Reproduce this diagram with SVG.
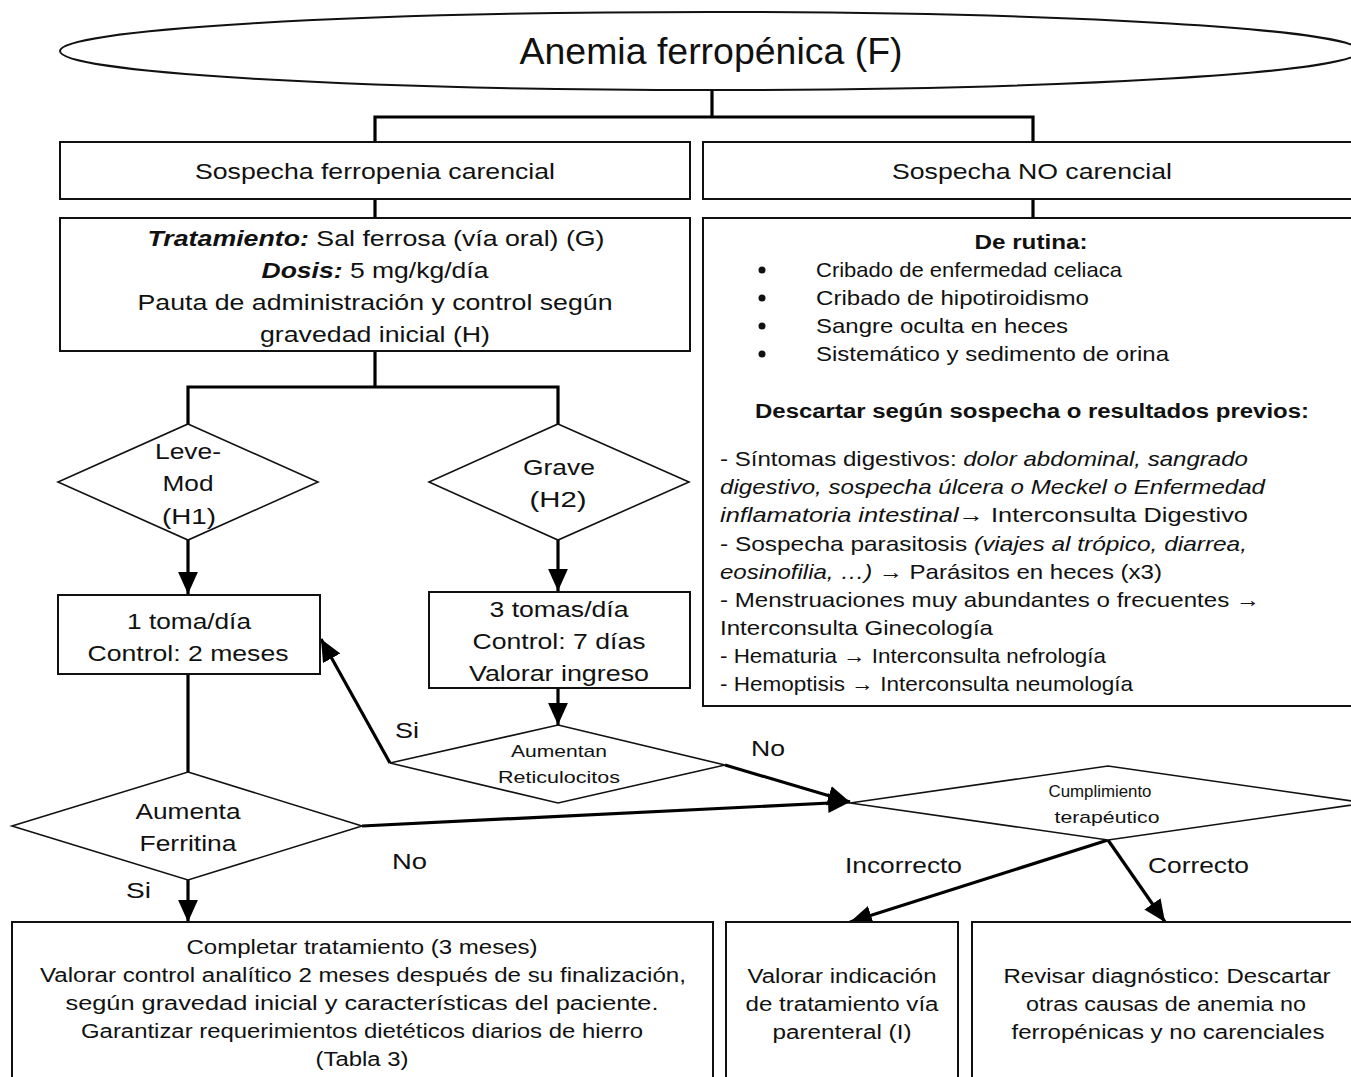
<svg xmlns="http://www.w3.org/2000/svg" width="1351" height="1077" viewBox="0 0 1351 1077">
<defs>
<style>
text{font-family:"Liberation Sans",Arial,sans-serif;fill:#111;}
.box{fill:#fff;stroke:#111;stroke-width:2;}
.dia{fill:#fff;stroke:#111;stroke-width:1.6;}
.c{text-anchor:middle;}
.f22{font-size:22px;}
.f20{font-size:20px;}
.f17{font-size:17px;}
.con{fill:none;stroke:#000;stroke-width:3.2;}
</style>
<marker id="ahb" viewBox="0 0 10 10" refX="10" refY="5" markerWidth="22" markerHeight="22" orient="auto" markerUnits="userSpaceOnUse">
<path d="M0,0.5 L10,5 L0,9.5 Z" fill="#000"/>
</marker>
</defs>
<rect width="1351" height="1077" fill="#fff"/>

<g id="connectors">
<path class="con" d="M712,90 V117 M375,117 H1033 M375,115.5 V142 M1033,115.5 V142"/>
<path class="con" d="M375,199 V218 M1033,199 V218"/>
<path class="con" d="M375,351 V387 M188,387 H558 M188,385.5 V424 M558,385.5 V424"/>
<path class="con" d="M188,540 V594" marker-end="url(#ahb)"/>
<path class="con" d="M558,540 V591" marker-end="url(#ahb)"/>
<path class="con" d="M558,688 V725" marker-end="url(#ahb)"/>
<path class="con" d="M390,763 L321,639" marker-end="url(#ahb)"/>
<path class="con" d="M725,765 L850,802" marker-end="url(#ahb)"/>
<path class="con" d="M362,826 L850,802" marker-end="url(#ahb)"/>
<path class="con" d="M188,674 V772"/>
<path class="con" d="M188,880 V922" marker-end="url(#ahb)"/>
<path class="con" d="M1108,840 L850,922" marker-end="url(#ahb)"/>
<path class="con" d="M1108,840 L1165,922" marker-end="url(#ahb)"/>
<text class="f22" x="395" y="738" textLength="24" lengthAdjust="spacingAndGlyphs">Si</text>
<text class="f22" x="751" y="756" textLength="34" lengthAdjust="spacingAndGlyphs">No</text>
<text class="f22" x="392" y="869" textLength="35" lengthAdjust="spacingAndGlyphs">No</text>
<text class="f22" x="126" y="898" textLength="25" lengthAdjust="spacingAndGlyphs">Si</text>
<text class="f22" x="845" y="873" textLength="117" lengthAdjust="spacingAndGlyphs">Incorrecto</text>
<text class="f22" x="1148" y="873" textLength="101" lengthAdjust="spacingAndGlyphs">Correcto</text>
</g>

<g id="title">
<ellipse cx="710" cy="51" rx="650" ry="39" class="box"/>
<text class="c" x="711" y="64" font-size="36" textLength="383" lengthAdjust="spacingAndGlyphs">Anemia ferropénica (F)</text>
</g>

<g id="sospecha-carencial">
<rect x="60" y="142" width="630" height="57" class="box"/>
<text class="c f22" x="375" y="179" textLength="360" lengthAdjust="spacingAndGlyphs">Sospecha ferropenia carencial</text>
</g>

<g id="sospecha-no-carencial">
<rect x="703" y="142" width="660" height="57" class="box"/>
<text class="c f22" x="1032" y="179" textLength="280" lengthAdjust="spacingAndGlyphs">Sospecha NO carencial</text>
</g>

<g id="tratamiento">
<rect x="60" y="218" width="630" height="133" class="box"/>
<text class="c f22" x="376" y="246" textLength="457" lengthAdjust="spacingAndGlyphs"><tspan font-weight="bold" font-style="italic">Tratamiento:</tspan> Sal ferrosa (vía oral) (G)</text>
<text class="c f22" x="375" y="278" textLength="227" lengthAdjust="spacingAndGlyphs"><tspan font-weight="bold" font-style="italic">Dosis:</tspan> 5 mg/kg/día</text>
<text class="c f22" x="375" y="310" textLength="475" lengthAdjust="spacingAndGlyphs">Pauta de administración y control según</text>
<text class="c f22" x="375" y="342" textLength="230" lengthAdjust="spacingAndGlyphs">gravedad inicial (H)</text>
</g>

<g id="rutina">
<rect x="703" y="218" width="660" height="488" class="box"/>
<text class="c" x="1031" y="249" font-size="20" font-weight="bold" textLength="113" lengthAdjust="spacingAndGlyphs">De rutina:</text>
<g font-size="21">
<circle cx="762" cy="270" r="3.5" fill="#111"/>
<circle cx="762" cy="298" r="3.5" fill="#111"/>
<circle cx="762" cy="326" r="3.5" fill="#111"/>
<circle cx="762" cy="354" r="3.5" fill="#111"/>
<text x="816" y="277" textLength="306" lengthAdjust="spacingAndGlyphs">Cribado de enfermedad celiaca</text>
<text x="816" y="305" textLength="273" lengthAdjust="spacingAndGlyphs">Cribado de hipotiroidismo</text>
<text x="816" y="333" textLength="252" lengthAdjust="spacingAndGlyphs">Sangre oculta en heces</text>
<text x="816" y="361" textLength="353" lengthAdjust="spacingAndGlyphs">Sistemático y sedimento de orina</text>
</g>
<text class="c" x="1032" y="418" font-size="20" font-weight="bold" textLength="554" lengthAdjust="spacingAndGlyphs">Descartar según sospecha o resultados previos:</text>
<g font-size="21">
<text x="720" y="466" textLength="528" lengthAdjust="spacingAndGlyphs">- Síntomas digestivos: <tspan font-style="italic">dolor abdominal, sangrado</tspan></text>
<text x="720" y="494" font-style="italic" textLength="545" lengthAdjust="spacingAndGlyphs">digestivo, sospecha úlcera o Meckel o Enfermedad</text>
<text x="720" y="522" textLength="528" lengthAdjust="spacingAndGlyphs"><tspan font-style="italic">inflamatoria intestinal</tspan>→ Interconsulta Digestivo</text>
<text x="720" y="551" textLength="527" lengthAdjust="spacingAndGlyphs">- Sospecha parasitosis <tspan font-style="italic">(viajes al trópico, diarrea,</tspan></text>
<text x="720" y="579" textLength="442" lengthAdjust="spacingAndGlyphs"><tspan font-style="italic">eosinofilia, …)</tspan> → Parásitos en heces (x3)</text>
<text x="720" y="607" textLength="540" lengthAdjust="spacingAndGlyphs">- Menstruaciones muy abundantes o frecuentes →</text>
<text x="720" y="635" textLength="273" lengthAdjust="spacingAndGlyphs">Interconsulta Ginecología</text>
<text x="720" y="663" textLength="386" lengthAdjust="spacingAndGlyphs">- Hematuria → Interconsulta nefrología</text>
<text x="720" y="691" textLength="413" lengthAdjust="spacingAndGlyphs">- Hemoptisis → Interconsulta neumología</text>
</g>
</g>

<g id="leve-mod">
<polygon class="dia" points="188,424 318,482 188,540 58,482"/>
<text class="c f22" x="188" y="459" textLength="66" lengthAdjust="spacingAndGlyphs">Leve-</text>
<text class="c f22" x="188" y="491" textLength="51" lengthAdjust="spacingAndGlyphs">Mod</text>
<text class="c f22" x="189" y="524" textLength="54" lengthAdjust="spacingAndGlyphs">(H1)</text>
</g>

<g id="grave">
<polygon class="dia" points="558,424 689,482 558,540 429,482"/>
<text class="c f22" x="559" y="475" textLength="72" lengthAdjust="spacingAndGlyphs">Grave</text>
<text class="c f22" x="558" y="507" textLength="57" lengthAdjust="spacingAndGlyphs">(H2)</text>
</g>

<g id="una-toma">
<rect x="58" y="595" width="262" height="79" class="box"/>
<text class="c f22" x="189" y="629" textLength="124" lengthAdjust="spacingAndGlyphs">1 toma/día</text>
<text class="c f22" x="188" y="661" textLength="201" lengthAdjust="spacingAndGlyphs">Control: 2 meses</text>
</g>

<g id="tres-tomas">
<rect x="429" y="592" width="261" height="96" class="box"/>
<text class="c f22" x="559" y="617" textLength="139" lengthAdjust="spacingAndGlyphs">3 tomas/día</text>
<text class="c f22" x="559" y="649" textLength="173" lengthAdjust="spacingAndGlyphs">Control: 7 días</text>
<text class="c f22" x="559" y="681" textLength="180" lengthAdjust="spacingAndGlyphs">Valorar ingreso</text>
</g>

<g id="reticulocitos">
<polygon class="dia" points="558,725 725,765 558,803 390,763"/>
<text class="c f17" x="559" y="757" textLength="96" lengthAdjust="spacingAndGlyphs">Aumentan</text>
<text class="c f17" x="559" y="783" textLength="122" lengthAdjust="spacingAndGlyphs">Reticulocitos</text>
</g>

<g id="ferritina">
<polygon class="dia" points="188,772 362,826 188,880 12,826"/>
<text class="c f22" x="188" y="819" textLength="105" lengthAdjust="spacingAndGlyphs">Aumenta</text>
<text class="c f22" x="188" y="851" textLength="97" lengthAdjust="spacingAndGlyphs">Ferritina</text>
</g>

<g id="cumplimiento">
<polygon class="dia" points="850,803 1108,766 1366,803 1108,840"/>
<text class="c f17" x="1100" y="797" textLength="103" lengthAdjust="spacingAndGlyphs">Cumplimiento</text>
<text class="c f17" x="1107" y="823" textLength="105" lengthAdjust="spacingAndGlyphs">terapéutico</text>
</g>

<g id="completar">
<rect x="12" y="922" width="701" height="170" class="box"/>
<g class="f20">
<text class="c" x="362" y="954" textLength="351" lengthAdjust="spacingAndGlyphs">Completar tratamiento (3 meses)</text>
<text class="c" x="363" y="982" textLength="646" lengthAdjust="spacingAndGlyphs">Valorar control analítico 2 meses después de su finalización,</text>
<text class="c" x="362" y="1010" textLength="593" lengthAdjust="spacingAndGlyphs">según gravedad inicial y características del paciente.</text>
<text class="c" x="362" y="1038" textLength="562" lengthAdjust="spacingAndGlyphs">Garantizar requerimientos dietéticos diarios de hierro</text>
<text class="c" x="362" y="1066" textLength="93" lengthAdjust="spacingAndGlyphs">(Tabla 3)</text>
</g>
</g>

<g id="parenteral">
<rect x="726" y="922" width="232" height="170" class="box"/>
<g class="f20">
<text class="c" x="842" y="983" textLength="189" lengthAdjust="spacingAndGlyphs">Valorar indicación</text>
<text class="c" x="842" y="1011" textLength="193" lengthAdjust="spacingAndGlyphs">de tratamiento vía</text>
<text class="c" x="842" y="1039" textLength="139" lengthAdjust="spacingAndGlyphs">parenteral (I)</text>
</g>
</g>

<g id="revisar">
<rect x="972" y="922" width="400" height="170" class="box"/>
<g class="f20">
<text class="c" x="1167" y="983" textLength="327" lengthAdjust="spacingAndGlyphs">Revisar diagnóstico: Descartar</text>
<text class="c" x="1166" y="1011" textLength="280" lengthAdjust="spacingAndGlyphs">otras causas de anemia no</text>
<text class="c" x="1168" y="1039" textLength="313" lengthAdjust="spacingAndGlyphs">ferropénicas y no carenciales</text>
</g>
</g>
</svg>
